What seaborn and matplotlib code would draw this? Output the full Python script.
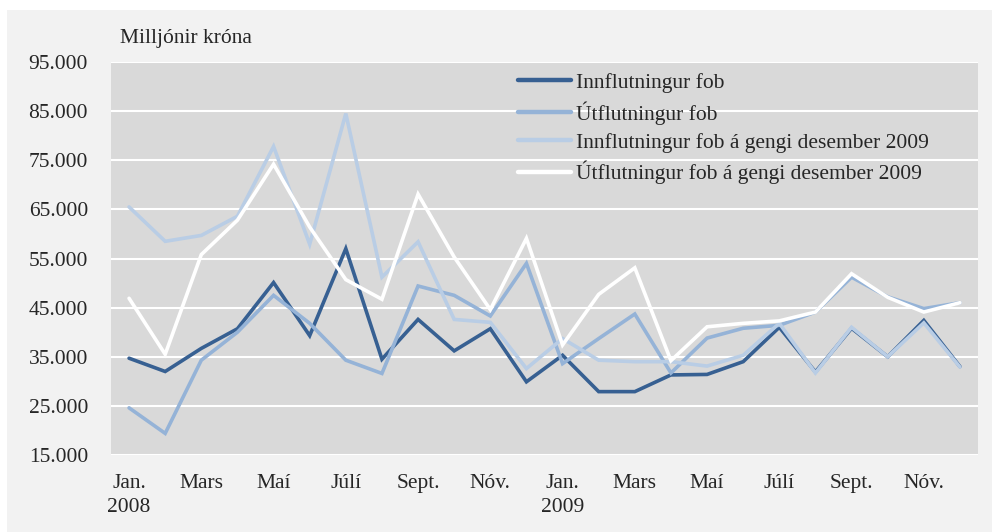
import matplotlib
matplotlib.use("Agg")
import matplotlib.pyplot as plt
import seaborn as sns
import pandas as pd
from matplotlib.patches import Rectangle
from matplotlib.ticker import FuncFormatter

# Monthly values, Jan 2008 - Dec 2009 (million ISK)
months = ["Jan.\n2008", "Feb", "Mars", "Apr", "Maí", "Jún", "Júlí", "Ágú", "Sept.", "Okt", "Nóv.", "Des",
          "Jan.\n2009", "Feb", "Mars", "Apr", "Maí", "Jún", "Júlí", "Ágú", "Sept.", "Okt", "Nóv.", "Des"]
innflutningur = [34700, 32000, 36700, 40700, 50100, 39300, 57000, 34500, 42600, 36200, 40700, 29900,
                 35300, 27900, 27900, 31300, 31400, 34000, 41000, 31900, 40800, 35000, 42400, 33000]
utflutningur = [24600, 19400, 34300, 40000, 47500, 41800, 34300, 31600, 49400, 47500, 43300, 54000,
                33600, 38700, 43700, 31700, 38800, 40800, 41400, 44100, 51200, 47200, 44800, 46000]
innflutningur_gengi = [65500, 58500, 59700, 63600, 77800, 57900, 84500, 51200, 58400, 42600, 42000, 32600,
                       38700, 34300, 34000, 34000, 33100, 35300, 41800, 31700, 41000, 35000, 41900, 32900]
utflutningur_gengi = [46900, 35500, 55800, 62800, 74200, 61400, 50700, 46700, 68100, 55300, 44600, 59100,
                      37400, 47700, 53100, 34200, 41100, 41800, 42300, 44100, 51900, 47100, 44100, 46000]

series_names = ["Innflutningur fob", "Útflutningur fob",
                "Innflutningur fob á gengi desember 2009", "Útflutningur fob á gengi desember 2009"]
colors = ["#376092", "#95b3d7", "#b9cde5", "#ffffff"]

df = pd.DataFrame({"idx": range(len(months)),
                   series_names[0]: innflutningur,
                   series_names[1]: utflutningur,
                   series_names[2]: innflutningur_gengi,
                   series_names[3]: utflutningur_gengi})
long = df.melt(id_vars="idx", var_name="series", value_name="value")

sns.set_style("white")
plt.rcParams["font.family"] = ["Liberation Serif", "DejaVu Serif"]
fs = 15.5

fig = plt.figure(figsize=(9.99, 5.32), dpi=100)
fig.patch.set_facecolor("white")
fig.patches.append(Rectangle((7 / 999, 0), 985 / 999, 1 - 10 / 532, transform=fig.transFigure,
                             facecolor="#f2f2f2", edgecolor="none", zorder=-10))
ax = fig.add_axes([111 / 999, 1 - 455 / 532, 867 / 999, 393 / 532])
ax.set_facecolor("#d9d9d9")

sns.lineplot(data=long, x="idx", y="value", hue="series", hue_order=series_names,
             palette=colors, linewidth=2.6, sort=False, ax=ax, legend=False)
for line in ax.get_lines():
    line.set_solid_joinstyle("miter")

ax.set_xlim(-0.5, len(months) - 0.5)
ax.set_ylim(15000, 95000)
ax.set_yticks(range(15000, 95001, 10000))
ax.yaxis.set_major_formatter(FuncFormatter(lambda v, p: f"{int(v):,}".replace(",", ".")))
ax.set_xticks(range(0, len(months), 2))
ax.set_xticklabels(months[::2], linespacing=1.35)
ax.tick_params(axis="x", length=0, pad=14, labelsize=fs)
ax.tick_params(axis="y", length=0, pad=16.5, labelsize=fs)
ax.grid(axis="y", color="white", linewidth=1.5)
ax.set_axisbelow(True)
for s in ax.spines.values():
    s.set_visible(False)
ax.set_xlabel("")
ax.set_ylabel("")

handles = [plt.Line2D([], [], color=c, linewidth=3.2, solid_capstyle="round") for c in colors]
ax.legend(handles, series_names, loc="upper left", bbox_to_anchor=(0.457, 1.0), frameon=False,
          fontsize=fs, handlelength=2.45, handletextpad=0.23, labelspacing=0.38, borderaxespad=0.1)

fig.text(120 / 999, 1 - 38 / 532, "Milljónir króna", fontsize=fs, va="center", ha="left")

fig.savefig("out.png", dpi=100, facecolor=fig.get_facecolor())
